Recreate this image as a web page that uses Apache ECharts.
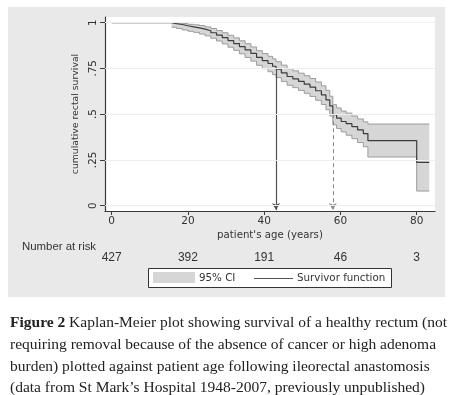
<!DOCTYPE html>
<html>
<head>
<meta charset="utf-8">
<script src="https://cdn.jsdelivr.net/npm/echarts@6/dist/echarts.min.js"></script>
<style>
html,body{margin:0;padding:0;background:#fff;}
#c{width:455px;height:395px;}
</style>
</head>
<body>
<div id="c"></div>
<script>
// ---- data ----
var ages  = [0, 15.7, 17, 18.5, 20, 21.5, 23, 24.5, 26, 27.5, 29, 30.5, 32, 33.5, 35, 36.5, 38, 39.5, 41, 42.2, 43.1, 44.5, 46, 47.5, 49, 50.5, 52, 53.5, 55, 56.2, 57.2, 58, 59, 60.2, 61.5, 63, 64.5, 66, 67.2, 80, 83.3];
var surv  = [1, 0.995, 0.99, 0.983, 0.977, 0.972, 0.965, 0.956, 0.945, 0.932, 0.918, 0.902, 0.886, 0.869, 0.851, 0.832, 0.81, 0.793, 0.777, 0.762, 0.746, 0.726, 0.706, 0.693, 0.679, 0.664, 0.648, 0.628, 0.605, 0.578, 0.545, 0.497, 0.478, 0.46, 0.448, 0.432, 0.414, 0.394, 0.355, 0.237, 0.237];
var upper = [1, 1, 0.999, 0.995, 0.991, 0.988, 0.984, 0.977, 0.968, 0.957, 0.945, 0.931, 0.917, 0.901, 0.885, 0.867, 0.847, 0.831, 0.816, 0.802, 0.787, 0.768, 0.749, 0.737, 0.724, 0.71, 0.695, 0.676, 0.655, 0.63, 0.598, 0.552, 0.534, 0.517, 0.506, 0.49, 0.474, 0.458, 0.446, 0.446, 0.446];
var lower = [1, 0.975, 0.968, 0.96, 0.953, 0.947, 0.938, 0.928, 0.915, 0.9, 0.884, 0.866, 0.849, 0.83, 0.81, 0.79, 0.767, 0.749, 0.732, 0.716, 0.7, 0.679, 0.658, 0.645, 0.63, 0.614, 0.597, 0.576, 0.553, 0.524, 0.49, 0.442, 0.422, 0.403, 0.385, 0.366, 0.345, 0.322, 0.266, 0.08, 0.08];
var xTicks = [0, 20, 40, 60, 80];
var yTicks = [0, 0.25, 0.5, 0.75, 1];
var yTickLabels = ['0', '.25', '.5', '.75', '1'];
var atRisk = ['427', '392', '191', '46', '3'];
var median75Age = 43.1;   // age where survival reaches .75
var median50Age = 58.0;   // age where survival reaches .5

var X_MIN = -1.76, X_MAX = 84.8, Y_MIN = -0.029, Y_MAX = 1.031;
var SANS = 'DejaVu Sans';
var TXT = '#333';

var chart = echarts.init(document.getElementById('c'), null, {renderer: 'canvas'});

function bandRender(params, api) {
  var up = [], lo = [];
  for (var i = 1; i < ages.length; i++) {
    up.push(api.coord([ages[i], upper[i]]));
    if (i < ages.length - 1) up.push(api.coord([ages[i + 1], upper[i]]));
  }
  for (var j = 1; j < ages.length; j++) {
    lo.push(api.coord([ages[j], lower[j]]));
    if (j < ages.length - 1) lo.push(api.coord([ages[j + 1], lower[j]]));
  }
  var poly = up.concat(lo.slice().reverse());
  return {
    type: 'group',
    children: [
      {type: 'polygon', shape: {points: poly}, style: {fill: '#d6d6d6', stroke: 'none'}},
      {type: 'polyline', shape: {points: up}, style: {fill: 'none', stroke: '#9b9b9b', lineWidth: 1}},
      {type: 'polyline', shape: {points: lo}, style: {fill: 'none', stroke: '#9b9b9b', lineWidth: 1}}
    ]
  };
}

var gridLines = yTicks.map(function (v) {
  return [{coord: [X_MIN, v]}, {coord: [X_MAX, v]}];
});

var capFont = 'Liberation Serif';
var capSize = 15.5;

var option = {
  animation: false,
  backgroundColor: '#fff',
  grid: {left: 105, top: 17, width: 330, height: 194, show: true, backgroundColor: '#fff', borderWidth: 0, containLabel: false},
  xAxis: [{
    type: 'value', min: X_MIN, max: X_MAX,
    axisLine: {show: true, onZero: false, lineStyle: {color: '#3a3a3a', width: 1.2}},
    axisTick: {show: true, length: 4, customValues: xTicks, lineStyle: {color: '#3a3a3a'}},
    axisLabel: {customValues: xTicks, color: TXT, fontFamily: SANS, fontSize: 10.5, margin: 5},
    splitLine: {show: false},
    name: "patient's age (years)", nameLocation: 'middle', nameGap: 19,
    nameTextStyle: {color: TXT, fontFamily: SANS, fontSize: 10.2}
  }, {
    type: 'value', min: X_MIN, max: X_MAX, position: 'bottom', offset: 41,
    axisLine: {show: false}, axisTick: {show: false},
    axisLabel: {customValues: xTicks, margin: 0, color: TXT, fontFamily: 'Liberation Sans', fontSize: 12,
      formatter: function (v) { var k = xTicks.indexOf(v); return k >= 0 ? atRisk[k] : ''; }},
    splitLine: {show: false}
  }],
  yAxis: {
    type: 'value', min: Y_MIN, max: Y_MAX,
    axisLine: {show: true, onZero: false, lineStyle: {color: '#3a3a3a', width: 1.2}},
    axisTick: {show: true, length: 5, customValues: yTicks, lineStyle: {color: '#3a3a3a'}},
    axisLabel: {customValues: yTicks, rotate: 90, color: TXT, fontFamily: SANS, fontSize: 10.3, margin: 7,
      formatter: function (v) { var k = yTicks.indexOf(v); return k >= 0 ? yTickLabels[k] : ''; }},
    splitLine: {show: false},
    name: 'cumulative rectal survival', nameLocation: 'middle', nameGap: 21, nameRotate: 90,
    nameTextStyle: {color: TXT, fontFamily: SANS, fontSize: 9.3}
  },
  series: [
    {
      type: 'line', data: [], z: 1, silent: true,
      markLine: {silent: true, symbol: 'none', label: {show: false},
        lineStyle: {color: '#eeeeee', width: 1, type: 'solid'}, data: gridLines}
    },
    {
      type: 'custom', coordinateSystem: 'cartesian2d', data: [[0, 0]], z: 2, silent: true,
      renderItem: bandRender
    },
    {
      type: 'line', step: 'end', z: 3, silent: true, showSymbol: false, symbol: 'none',
      data: ages.map(function (a, i) { return [a, surv[i]]; }),
      lineStyle: {color: '#3c3c3c', width: 1.2},
      markLine: {silent: true, symbol: 'none', label: {show: false}, z: 4,
        data: [
          [{coord: [X_MIN, 0.75], lineStyle: {color: '#505050', width: 1.2, type: 'solid'}}, {coord: [median75Age, 0.75]}],
          [{coord: [median75Age, 0.75], lineStyle: {color: '#505050', width: 1.2, type: 'solid'}}, {coord: [median75Age, -0.024], symbol: 'arrow', symbolSize: [6, 7]}],
          [{coord: [X_MIN, 0.5], lineStyle: {color: '#7a7a7a', width: 1, type: [6, 3]}}, {coord: [median50Age, 0.5]}],
          [{coord: [median50Age, 0.5], lineStyle: {color: '#8a8a8a', width: 1, type: [4, 3]}}, {coord: [median50Age, -0.024], symbol: 'arrow', symbolSize: [6, 7]}]
        ]}
    }
  ],
  graphic: [
    {type: 'rect', z: -10, silent: true, shape: {x: 8, y: 7, width: 437, height: 290}, style: {fill: '#e9e9e9'}},
    {type: 'text', x: 22, y: 247, silent: true, style: {text: 'Number at risk', fill: TXT, fontFamily: 'Liberation Sans', fontSize: 11.4, textVerticalAlign: 'middle'}},
    {type: 'rect', silent: true, shape: {x: 148.5, y: 268.5, width: 243, height: 19}, style: {fill: '#fff', stroke: '#333', lineWidth: 1}},
    {type: 'rect', silent: true, shape: {x: 153, y: 272, width: 42, height: 11}, style: {fill: '#d6d6d6'}},
    {type: 'text', x: 199, y: 278, silent: true, style: {text: '95% CI', fill: TXT, fontFamily: SANS, fontSize: 10.3, textVerticalAlign: 'middle'}},
    {type: 'line', silent: true, shape: {x1: 254, y1: 278.5, x2: 293, y2: 278.5}, style: {stroke: '#555', lineWidth: 1}},
    {type: 'text', x: 297, y: 278, silent: true, style: {text: 'Survivor function', fill: TXT, fontFamily: SANS, fontSize: 10.3, textVerticalAlign: 'middle'}},
    {type: 'text', x: 10, y: 323, silent: true, style: {
      text: '{b|Figure 2} {n|Kaplan-Meier plot showing survival of a healthy rectum (not}',
      rich: {b: {fontFamily: capFont, fontSize: capSize, fontWeight: 'bold', fill: '#222'}, n: {fontFamily: capFont, fontSize: capSize, fill: '#222'}},
      fontFamily: capFont, fontSize: capSize, fill: '#222', textVerticalAlign: 'middle'}},
    {type: 'text', x: 10, y: 345, silent: true, style: {text: 'requiring removal because of the absence of cancer or high adenoma', fontFamily: capFont, fontSize: capSize, fill: '#222', textVerticalAlign: 'middle'}},
    {type: 'text', x: 10, y: 367, silent: true, style: {text: 'burden) plotted against patient age following ileorectal anastomosis', fontFamily: capFont, fontSize: capSize, fill: '#222', textVerticalAlign: 'middle'}},
    {type: 'text', x: 10, y: 388, silent: true, style: {text: '(data from St Mark\u2019s Hospital 1948-2007, previously unpublished)', fontFamily: capFont, fontSize: capSize, fill: '#222', textVerticalAlign: 'middle'}}
  ]
};
chart.setOption(option);
</script>
</body>
</html>
